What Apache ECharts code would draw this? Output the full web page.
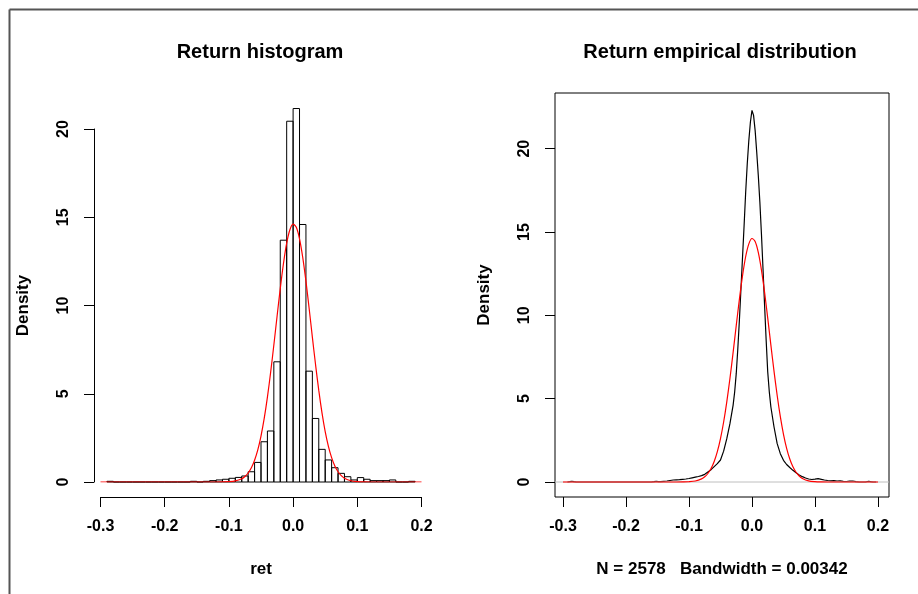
<!DOCTYPE html>
<html>
<head>
<meta charset="utf-8">
<script src="https://cdn.jsdelivr.net/npm/echarts@6/dist/echarts.min.js"></script>
<style>
  html, body { margin: 0; padding: 0; background: #fff; }
  #chart { width: 918px; height: 594px; }
</style>
</head>
<body>
<div id="chart"></div>
<script>
// ---- Histogram (left panel) ----
const histBreaks = [-0.29,-0.28,-0.27,-0.26,-0.25,-0.24,-0.23,-0.22,-0.21,-0.20,-0.19,-0.18,-0.17,-0.16,-0.15,-0.14,-0.13,-0.12,-0.11,-0.10,-0.09,-0.08,-0.07,-0.06,-0.05,-0.04,-0.03,-0.02,-0.01,0.00,0.01,0.02,0.03,0.04,0.05,0.06,0.07,0.08,0.09,0.10,0.11,0.12,0.13,0.14,0.15,0.16,0.17,0.18,0.19];
const histDensity = [0.039,0,0,0,0,0,0,0,0,0,0,0,0,0.039,0,0.039,0.078,0.116,0.155,0.21,0.26,0.34,0.58,1.11,2.28,2.89,6.81,13.70,20.44,21.16,14.59,6.28,3.60,1.85,1.25,0.81,0.49,0.30,0.116,0.25,0.155,0.078,0.078,0.078,0.116,0,0,0.039];

// ---- Fitted normal curve (red, both panels) ----
const normX = [-0.30,-0.20,-0.15,-0.12,-0.11,-0.10,-0.09,-0.08,-0.075,-0.07,-0.065,-0.06,-0.055,-0.05,-0.045,-0.04,-0.035,-0.03,-0.025,-0.02,-0.015,-0.01,-0.005,0,0.005,0.01,0.015,0.02,0.025,0.03,0.035,0.04,0.045,0.05,0.055,0.06,0.065,0.07,0.075,0.08,0.09,0.10,0.11,0.12,0.15,0.20];
const normY = [0,0,0,0.001,0.004,0.016,0.059,0.185,0.312,0.51,0.807,1.234,1.82,2.605,3.60,4.81,6.21,7.76,9.38,10.96,12.38,13.53,14.29,14.61,14.43,13.78,12.73,11.38,9.83,8.21,6.64,5.19,3.92,2.86,2.02,1.38,0.913,0.583,0.36,0.215,0.069,0.020,0.005,0.001,0,0];

// ---- Kernel density estimate (black, right panel) ----
const kdeX = [-0.293,-0.2895,-0.286,-0.2825,-0.279,-0.16,-0.1555,-0.152,-0.1485,-0.145,-0.14,-0.135,-0.13,-0.125,-0.12,-0.115,-0.11,-0.105,-0.10,-0.095,-0.09,-0.085,-0.08,-0.075,-0.07,-0.065,-0.06,-0.055,-0.05,-0.045,-0.04,-0.035,-0.03,-0.0275,-0.025,-0.0225,-0.02,-0.0175,-0.015,-0.0125,-0.01,-0.0075,-0.005,-0.0025,0,0.001,0.0025,0.005,0.0075,0.01,0.0125,0.015,0.0175,0.02,0.0225,0.025,0.0275,0.03,0.035,0.04,0.045,0.05,0.055,0.06,0.065,0.07,0.075,0.08,0.085,0.09,0.095,0.10,0.105,0.11,0.115,0.12,0.125,0.13,0.135,0.14,0.145,0.15,0.155,0.16,0.165,0.17,0.18,0.1815,0.185,0.1885,0.192,0.197];
const kdeY = [0,0.022,0.045,0.022,0,0,0.022,0.045,0.025,0.02,0.04,0.06,0.09,0.12,0.13,0.14,0.16,0.18,0.21,0.25,0.29,0.33,0.38,0.46,0.6,0.74,0.92,1.1,1.32,1.85,2.6,3.5,4.6,5.4,6.5,8.0,9.7,11.6,13.5,15.4,17.4,19.1,20.5,21.6,22.3,22.42,22.0,21.1,19.8,18.4,16.8,14.9,12.8,10.6,8.5,6.6,5.4,4.5,3.3,2.3,1.7,1.3,1.05,0.87,0.7,0.55,0.42,0.32,0.24,0.18,0.15,0.17,0.2,0.16,0.12,0.09,0.07,0.08,0.06,0.07,0.04,0.03,0.05,0.06,0.02,0,0,0.022,0.045,0.022,0,0];

// ---- Axis ticks / text ----
const xTicks = [-0.3,-0.2,-0.1,0.0,0.1,0.2];
const yTicks = [0,5,10,15,20];
const titles = ['Return histogram', 'Return empirical distribution'];
const xNames = ['ret', 'N = 2578   Bandwidth = 0.00342'];
const yName = 'Density';

const FONT = '"Liberation Sans", Arial, sans-serif';
const fmtX = v => (Math.abs(v) < 1e-9 ? '0.0' : v.toFixed(1));
const tickStyle = { show: true, length: 10, lineStyle: { color: '#000', width: 1 } };
const labelText = { fontFamily: FONT, fontWeight: 'bold', fontSize: 16, color: '#000' };
const nameText = { fontFamily: FONT, fontWeight: 'bold', fontSize: 17, color: '#000' };

const chart = echarts.init(document.getElementById('chart'), null, { renderer: 'canvas' });

const option = {
  animation: false,
  backgroundColor: '#fff',
  title: [
    { text: titles[0], left: 260, top: 42, textAlign: 'center', padding: 0,
      textStyle: { fontFamily: FONT, fontWeight: 'bold', fontSize: 20, color: '#000' } },
    { text: titles[1], left: 720, top: 42, textAlign: 'center', padding: 0,
      textStyle: { fontFamily: FONT, fontWeight: 'bold', fontSize: 20, color: '#000' } }
  ],
  grid: [
    { left: 100.5, top: 129, width: 321, height: 353, containLabel: false, outerBoundsMode: 'none' },
    { left: 555, top: 93, width: 334, height: 404, containLabel: false, outerBoundsMode: 'none',
      show: true, borderColor: '#000', borderWidth: 1, backgroundColor: 'transparent' }
  ],
  xAxis: [
    { gridIndex: 0, type: 'value', min: -0.3, max: 0.2, interval: 0.1, offset: 15,
      axisLine: { show: true, onZero: false, lineStyle: { color: '#000', width: 1 } },
      axisTick: tickStyle, splitLine: { show: false },
      axisLabel: Object.assign({ margin: 22, formatter: fmtX }, labelText),
      name: xNames[0], nameLocation: 'middle', nameGap: 64, nameTextStyle: nameText },
    { gridIndex: 1, type: 'value', min: -0.3127, max: 0.2175,
      axisLine: { show: false, onZero: false },
      axisTick: Object.assign({ customValues: xTicks }, tickStyle), splitLine: { show: false },
      axisLabel: Object.assign({ margin: 22, formatter: fmtX, customValues: xTicks }, labelText),
      name: xNames[1], nameLocation: 'middle', nameGap: 64, nameTextStyle: nameText }
  ],
  yAxis: [
    { gridIndex: 0, type: 'value', min: 0, max: 20, interval: 5, offset: 6.5,
      axisLine: { show: true, onZero: false, lineStyle: { color: '#000', width: 1 } },
      axisTick: tickStyle, splitLine: { show: false },
      axisLabel: Object.assign({ margin: 22, rotate: 90 }, labelText),
      name: yName, nameLocation: 'middle', nameRotate: 90, nameGap: 62, nameTextStyle: nameText },
    { gridIndex: 1, type: 'value', min: -0.9, max: 23.34,
      axisLine: { show: false, onZero: false },
      axisTick: Object.assign({ customValues: yTicks }, tickStyle), splitLine: { show: false },
      axisLabel: Object.assign({ margin: 22, rotate: 90, customValues: yTicks }, labelText),
      name: yName, nameLocation: 'middle', nameRotate: 90, nameGap: 62, nameTextStyle: nameText }
  ],
  series: [
    {
      type: 'custom', xAxisIndex: 0, yAxisIndex: 0, clip: false,
      encode: { x: [0, 1], y: 2 },
      data: histDensity.map((d, i) => [histBreaks[i], histBreaks[i + 1], d]),
      renderItem: (params, api) => {
        const p0 = api.coord([api.value(0), 0]);
        const p1 = api.coord([api.value(1), api.value(2)]);
        return {
          type: 'rect',
          shape: { x: p0[0], y: p1[1], width: p1[0] - p0[0], height: p0[1] - p1[1] },
          style: { fill: 'rgba(0,0,0,0)', stroke: '#000', lineWidth: 1 }
        };
      }
    },
    {
      type: 'line', xAxisIndex: 0, yAxisIndex: 0, showSymbol: false, smooth: 0.3,
      data: normX.map((x, i) => [x, normY[i]]),
      lineStyle: { color: '#ff0000', width: 1.2 }, itemStyle: { color: '#ff0000' }, z: 3
    },
    {
      type: 'line', xAxisIndex: 1, yAxisIndex: 1, showSymbol: false,
      data: kdeX.map((x, i) => [x, kdeY[i]]),
      lineStyle: { color: '#000', width: 1.2 }, itemStyle: { color: '#000' }, z: 2
    },
    {
      type: 'line', xAxisIndex: 1, yAxisIndex: 1, showSymbol: false,
      data: [[-0.3127, 0], [0.2175, 0]],
      lineStyle: { color: '#bebebe', width: 1 }, itemStyle: { color: '#bebebe' }, z: 2
    },
    {
      type: 'line', xAxisIndex: 1, yAxisIndex: 1, showSymbol: false, smooth: 0.3,
      data: normX.map((x, i) => [x, normY[i]]),
      lineStyle: { color: '#ff0000', width: 1.2 }, itemStyle: { color: '#ff0000' }, z: 3
    }
  ],
  graphic: [
    { type: 'line', shape: { x1: 9.5, y1: 9.5, x2: 918, y2: 9.5 }, style: { stroke: '#555', lineWidth: 2 } },
    { type: 'line', shape: { x1: 9.5, y1: 9.5, x2: 9.5, y2: 594 }, style: { stroke: '#555', lineWidth: 2 } }
  ]
};
chart.setOption(option);
</script>
</body>
</html>
